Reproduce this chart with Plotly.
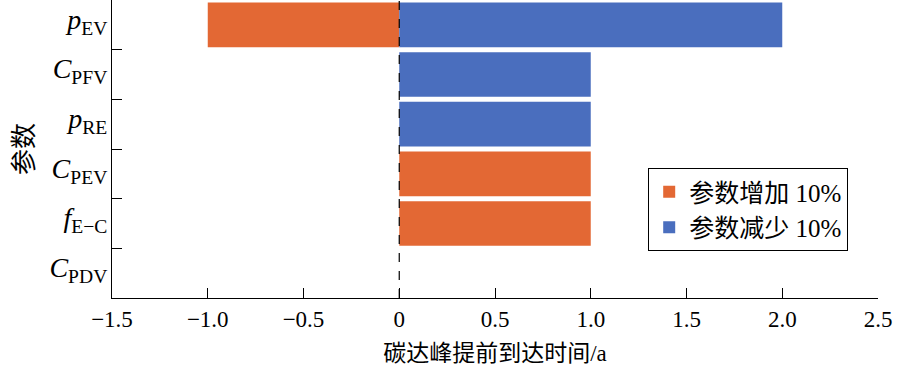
import plotly.graph_objects as go

categories = ["<i>p</i><sub>EV</sub>", "<i>C</i><sub>PFV</sub>", "<i>p</i><sub>RE</sub>",
              "<i>C</i><sub>PEV</sub>", "<i>f</i><sub>E−C</sub>", "<i>C</i><sub>PDV</sub>"]
increase_10 = [-1.0, 0, 0, 1.0, 1.0, 0]
decrease_10 = [2.0, 1.0, 1.0, 0, 0, 0]
x_ticks = [-1.5, -1.0, -0.5, 0, 0.5, 1.0, 1.5, 2.0, 2.5]
x_tick_text = ["−1.5", "−1.0", "−0.5", "0", "0.5", "1.0", "1.5", "2.0", "2.5"]

serif = "Liberation Serif, Noto Sans CJK SC"
orange = "#E36834"
blue = "#4A6EBE"

fig = go.Figure()
fig.add_trace(go.Bar(y=categories, x=increase_10, orientation="h", name="参数增加 10%",
                     marker=dict(color=orange, line=dict(width=0)), width=0.9))
fig.add_trace(go.Bar(y=categories, x=decrease_10, orientation="h", name="参数减少 10%",
                     marker=dict(color=blue, line=dict(width=0)), width=0.9))

fig.add_shape(type="line", xref="x", yref="paper", x0=0, x1=0, y0=0, y1=1,
              line=dict(color="black", width=1.2, dash="dash"))

fig.update_layout(
    width=897, height=372,
    margin=dict(l=112, r=19, t=0, b=74, autoexpand=False),
    barmode="overlay",
    plot_bgcolor="white", paper_bgcolor="white",
    font=dict(family=serif, size=23, color="black"),
    legend=dict(x=0.70, y=0.436, xanchor="left", yanchor="top",
                bordercolor="black", borderwidth=1, bgcolor="white",
                font=dict(family=serif, size=25), itemwidth=30,
                tracegroupgap=0),
    xaxis=dict(range=[-1.5, 2.5], tickvals=x_ticks, ticktext=x_tick_text,
               showline=True, linecolor="black", linewidth=1.2,
               ticks="inside", ticklen=10, tickcolor="black", tickwidth=1.2,
               showgrid=False, zeroline=False, automargin=False,
               title=dict(text="碳达峰提前到达时间/a", font=dict(family=serif, size=23), standoff=14),
               tickfont=dict(family=serif, size=23)),
    yaxis=dict(type="category", categoryorder="array", categoryarray=categories,
               range=[5.5, -0.5], tickson="boundaries",
               showline=True, linecolor="black", linewidth=1.2,
               ticks="inside", ticklen=10, tickcolor="black", tickwidth=1.2,
               showgrid=False, zeroline=False, automargin=False,
               ticklabelshift=6, ticklabelstandoff=-2,
               tickfont=dict(family=serif, size=28),
               title=dict(text="参数", font=dict(family=serif, size=26), standoff=8)),
)

fig.write_html("out.html", config={"displayModeBar": False},
               post_script="document.body.style.margin='0';")
